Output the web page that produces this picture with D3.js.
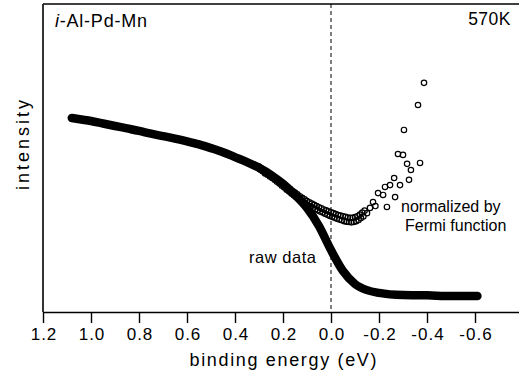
<!DOCTYPE html>
<html>
<head>
<meta charset="utf-8">
<script src="https://cdn.jsdelivr.net/npm/d3@7"></script>
<style>
  body { margin: 0; background: #fff; }
  svg { display: block; font-family: "Liberation Sans", Arial, sans-serif; }
</style>
</head>
<body>
<svg id="chart" width="519" height="388"></svg>
<script>

// raw photoemission spectrum (binding energy in eV, intensity in arb. units)
var rawEnergy    = [1.08, 1.04, 1.00, 0.95, 0.90, 0.85, 0.80, 0.75, 0.70, 0.65, 0.60, 0.55, 0.50, 0.45, 0.40, 0.35, 0.30, 0.25, 0.20, 0.15, 0.10, 0.05, 0.00, -0.05, -0.10, -0.15, -0.20, -0.30, -0.40, -0.50, -0.61];
var rawIntensity = [63.0, 62.5, 62.0, 61.2, 60.4, 59.6, 58.8, 57.9, 57.1, 56.3, 55.4, 54.4, 53.2, 51.9, 50.3, 48.7, 46.8, 44.5, 41.6, 38.0, 33.8, 27.9, 20.1, 13.3, 9.1, 7.1, 6.2, 5.5, 5.4, 5.2, 5.2];

// spectrum divided by the Fermi function
var normEnergy = [
  0.300, 0.295, 0.290, 0.285, 0.280, 0.275, 0.270, 0.265, 0.260, 0.255,
  0.250, 0.245, 0.240, 0.235, 0.230, 0.225, 0.220, 0.215, 0.210, 0.205,
  0.200, 0.195, 0.190, 0.185, 0.180, 0.175, 0.170, 0.165, 0.160, 0.155,
  0.150, 0.145, 0.140, 0.135, 0.130, 0.125, 0.120, 0.115, 0.110, 0.105,
  0.100, 0.095, 0.090, 0.085, 0.080, 0.075, 0.070, 0.065, 0.060, 0.055,
  0.050, 0.045, 0.040, 0.035, 0.030, 0.025, 0.020, 0.015, 0.010, 0.005,
  0.000, -0.005, -0.010, -0.015, -0.020, -0.025, -0.030, -0.035, -0.040, -0.045,
  -0.050, -0.055, -0.060, -0.065, -0.070, -0.075, -0.080, -0.085, -0.090, -0.095,
  -0.100, -0.105, -0.110, -0.115, -0.120, -0.125, -0.130, -0.135, -0.140,
  -0.150, -0.1625, -0.175, -0.185, -0.196, -0.217, -0.225, -0.233, -0.246, -0.263,
  -0.267, -0.279, -0.2875, -0.300, -0.304, -0.317, -0.325, -0.333, -0.3625, -0.371, -0.3875];
var normIntensity = [
  47.2, 46.3, 46.6, 45.7, 46.1, 45.0, 45.6, 44.6, 45.1, 44.0,
  44.6, 43.5, 44.0, 42.9, 43.5, 42.3, 42.9, 41.7, 42.3, 41.0,
  41.7, 40.4, 41.1, 39.7, 40.5, 39.1, 39.9, 38.5, 39.3, 37.9,
  38.8, 37.3, 38.2, 36.7, 37.6, 36.1, 37.1, 35.6, 36.6, 35.1,
  36.0, 34.6, 35.6, 34.2, 35.2, 33.8, 34.8, 33.4, 34.4, 33.0,
  34.0, 32.6, 33.7, 32.3, 33.3, 31.9, 33.0, 31.6, 32.7, 31.2,
  32.4, 30.9, 32.1, 30.6, 31.8, 30.3, 31.5, 30.0, 31.3, 29.8,
  31.1, 29.5, 30.9, 29.3, 30.7, 29.2, 30.6, 29.1, 30.6, 29.2,
  30.8, 29.5, 31.1, 29.9, 31.6, 30.5, 32.3, 31.0, 32.9,
  32.1, 33.8, 35.7, 34.4, 38.6, 38.0, 40.6, 34.1, 41.2, 43.5,
  37.3, 51.3, 41.2, 51.0, 59.1, 48.1, 42.9, 46.1, 67.2, 48.4, 74.4];

var xTicks = [1.2, 1.0, 0.8, 0.6, 0.4, 0.2, 0.0, -0.2, -0.4, -0.6];

var margin = {top: 4, right: 0, bottom: 76, left: 43};
var width = 519 - margin.left - margin.right,
    height = 388 - margin.top - margin.bottom;

var svg = d3.select("#chart")
            .append("g")
            .attr("transform", "translate(" + margin.left + "," + margin.top + ")");

var x = d3.scaleLinear()
          .domain([1.2, -0.7833])
          .range([0, width]);

var y = d3.scaleLinear()
          .domain([0, 100])
          .range([height, 0]);

var raw = rawEnergy.map(function(e, i) { return {e: e, v: rawIntensity[i]}; });
var norm = normEnergy.map(function(e, i) { return {e: e, v: normIntensity[i]}; });

// Fermi level
svg.append("line")
   .attr("x1", x(0)).attr("x2", x(0))
   .attr("y1", 0).attr("y2", height)
   .attr("stroke", "#000")
   .attr("stroke-width", 1)
   .attr("stroke-dasharray", "4,3");

// normalized data, open circles
svg.selectAll("circle.norm")
   .data(norm)
   .enter().append("circle")
   .attr("class", "norm")
   .attr("cx", function(d) { return x(d.e); })
   .attr("cy", function(d) { return y(d.v); })
   .attr("r", 2.7)
   .attr("fill", "none")
   .attr("stroke", "#000")
   .attr("stroke-width", 1.2);

// raw data, dense points drawn as a thick band
var rawline = d3.line()
                .x(function(d) { return x(d.e); })
                .y(function(d) { return y(d.v); })
                .curve(d3.curveMonotoneX);

svg.append("path")
   .datum(raw)
   .attr("fill", "none")
   .attr("stroke", "#000")
   .attr("stroke-width", 8.5)
   .attr("stroke-linecap", "round")
   .attr("stroke-linejoin", "round")
   .attr("d", rawline);

// axes
var xAxis = svg.append("g")
   .attr("transform", "translate(0," + height + ")")
   .call(d3.axisBottom(x)
           .tickValues(xTicks)
           .tickSize(11)
           .tickPadding(5)
           .tickSizeOuter(0)
           .tickFormat(function(d) { return d.toFixed(1); }));

xAxis.select(".domain").attr("stroke-width", 1.6);
xAxis.selectAll(".tick line").attr("stroke-width", 1.4);
xAxis.selectAll(".tick text")
     .attr("font-size", 17)
     .attr("font-family", "Liberation Sans, Arial, sans-serif")
     .attr("letter-spacing", 1)
     .attr("dx", 0.5)
     .attr("fill", "#000");

svg.append("line")
   .attr("x1", 0).attr("x2", 0)
   .attr("y1", 0).attr("y2", height)
   .attr("stroke", "#000")
   .attr("stroke-width", 1.6);

svg.append("line")
   .attr("x1", 0).attr("x2", width)
   .attr("y1", 0).attr("y2", 0)
   .attr("stroke", "#000")
   .attr("stroke-width", 1.6);

// labels
var title = svg.append("text")
   .attr("x", 12)
   .attr("y", 23)
   .attr("font-size", 18)
   .attr("textLength", 92)
   .attr("lengthAdjust", "spacing");
title.append("tspan").attr("font-style", "italic").text("i");
title.append("tspan").text("-Al-Pd-Mn");

svg.append("text")
   .attr("x", 511 - margin.left)
   .attr("y", 21)
   .attr("text-anchor", "end")
   .attr("font-size", 17.5)
   .attr("letter-spacing", 0.5)
   .text("570K");

svg.append("text")
   .attr("x", 401 - margin.left)
   .attr("y", 208)
   .attr("font-size", 16)
   .text("normalized by");

svg.append("text")
   .attr("x", 405 - margin.left)
   .attr("y", 227)
   .attr("font-size", 16)
   .text("Fermi function");

svg.append("text")
   .attr("x", 249 - margin.left)
   .attr("y", 259)
   .attr("font-size", 16.5)
   .attr("textLength", 67)
   .attr("lengthAdjust", "spacing")
   .text("raw data");

svg.append("text")
   .attr("x", 283 - margin.left)
   .attr("y", 362)
   .attr("text-anchor", "middle")
   .attr("font-size", 18)
   .attr("textLength", 187)
   .attr("lengthAdjust", "spacing")
   .text("binding energy (eV)");

svg.append("text")
   .attr("transform", "translate(" + (29 - margin.left) + ",141) rotate(-90)")
   .attr("text-anchor", "middle")
   .attr("font-size", 18)
   .attr("textLength", 90)
   .attr("lengthAdjust", "spacing")
   .text("intensity");

</script>
</body>
</html>
